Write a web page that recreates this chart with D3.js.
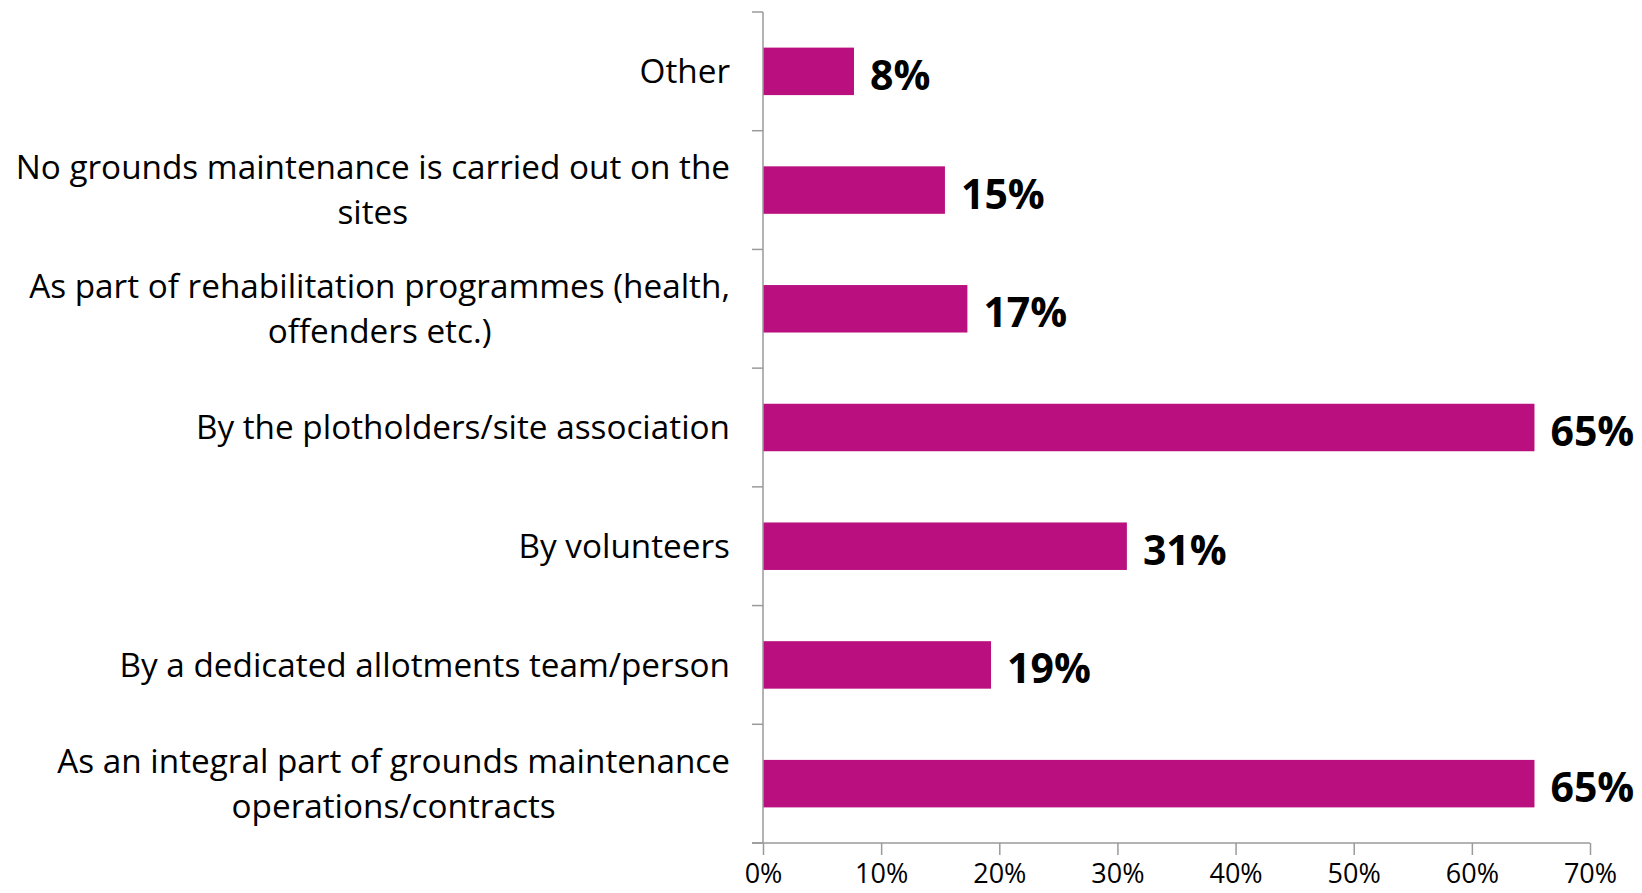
<!DOCTYPE html>
<html>
<head>
<meta charset="utf-8">
<script src="https://cdn.jsdelivr.net/npm/d3@7"></script>
<style>
  body { margin: 0; background: #fff; }
  svg { display: block; }
  .cat { font-family: "Open Sans", sans-serif; font-size: 33.3px; fill: #000; }
  .val { font-family: "Open Sans", sans-serif; font-size: 41px; font-weight: bold; fill: #000; }
  .tick text { font-family: "Open Sans", sans-serif; font-size: 27px; fill: #000; }
</style>
</head>
<body>
<svg id="chart" width="1642" height="893"></svg>
<script>
// categories from top to bottom, each one a list of text lines
var CATEGORIES = [
	["Other"],
	["No grounds maintenance is carried out on the", "sites"],
	["As part of rehabilitation programmes (health,", "offenders etc.)"],
	["By the plotholders/site association"],
	["By volunteers"],
	["By a dedicated allotments team/person"],
	["As an integral part of grounds maintenance", "operations/contracts"]
];
var VALUES = [7.7, 15.4, 17.3, 65.3, 30.8, 19.3, 65.3];
var VALUE_LABELS = ["8%", "15%", "17%", "65%", "31%", "19%", "65%"];
var X_TICKS = [0, 10, 20, 30, 40, 50, 60, 70];

var BAR_COLOR = "#BA0F7E";
var AXIS_COLOR = "#9a9a9a";

var AXIS_X = 763;
var TOP = 12;
var BOTTOM = 843;
var RIGHT = 1590;
var LABEL_RIGHT = 730;
var LINE_H = 45;

var svg = d3.select("#chart");

var x = d3.scaleLinear().domain([0, 70]).range([AXIS_X, RIGHT]);
var y = d3.scaleBand().domain(d3.range(CATEGORIES.length)).range([TOP, BOTTOM]).paddingInner(0.6).paddingOuter(0.3);
var yEdges = d3.scaleLinear().domain([0, CATEGORIES.length]).range([TOP, BOTTOM]);

// bars
svg.selectAll("rect.bar")
	.data(VALUES)
	.enter().append("rect")
	.attr("class", "bar")
	.attr("x", x(0))
	.attr("y", function(d, i) { return y(i); })
	.attr("width", function(d) { return x(d) - x(0); })
	.attr("height", y.bandwidth())
	.style("fill", BAR_COLOR);

// value labels
svg.selectAll("text.val")
	.data(VALUES)
	.enter().append("text")
	.attr("class", "val")
	.attr("x", function(d) { return x(d) + 16; })
	.attr("y", function(d, i) { return y(i) + y.bandwidth() / 2; })
	.attr("dy", "0.45em")
	.text(function(d, i) { return VALUE_LABELS[i]; });

// category labels: centred block, right-aligned to the axis
var catG = svg.selectAll("g.cat")
	.data(CATEGORIES)
	.enter().append("g")
	.attr("class", "cat");

catG.each(function(lines, i) {
	var g = d3.select(this);
	var cy = y(i) + y.bandwidth() / 2;
	var texts = g.selectAll("text")
		.data(lines)
		.enter().append("text")
		.attr("class", "cat")
		.attr("text-anchor", "middle")
		.attr("y", function(d, j) { return cy + (j - (lines.length - 1) / 2) * LINE_H; })
		.attr("dy", "0.35em")
		.text(function(d) { return d; });
	var maxW = 0;
	texts.each(function() { maxW = Math.max(maxW, this.getComputedTextLength()); });
	texts.attr("x", LABEL_RIGHT - maxW / 2);
});

// y axis line + ticks between categories
svg.append("line")
	.attr("x1", AXIS_X).attr("x2", AXIS_X)
	.attr("y1", TOP).attr("y2", BOTTOM)
	.style("stroke", AXIS_COLOR).style("stroke-width", 1.5);

svg.selectAll("line.ytick")
	.data(d3.range(CATEGORIES.length + 1))
	.enter().append("line")
	.attr("class", "ytick")
	.attr("x1", AXIS_X - 11).attr("x2", AXIS_X)
	.attr("y1", function(d) { return yEdges(d); })
	.attr("y2", function(d) { return yEdges(d); })
	.style("stroke", AXIS_COLOR).style("stroke-width", 1.5);

// x axis
var xAxis = d3.axisBottom(x)
	.tickValues(X_TICKS)
	.tickSize(12)
	.tickPadding(9)
	.tickFormat(function(d) { return d + "%"; });

var xg = svg.append("g")
	.attr("transform", "translate(0," + BOTTOM + ")")
	.call(xAxis);
xg.select(".domain").style("stroke", AXIS_COLOR).style("stroke-width", 1.5)
	.attr("d", "M" + (AXIS_X - 11) + ",0H" + RIGHT);
xg.selectAll(".tick line").style("stroke", AXIS_COLOR).style("stroke-width", 1.5);
</script>
</body>
</html>
